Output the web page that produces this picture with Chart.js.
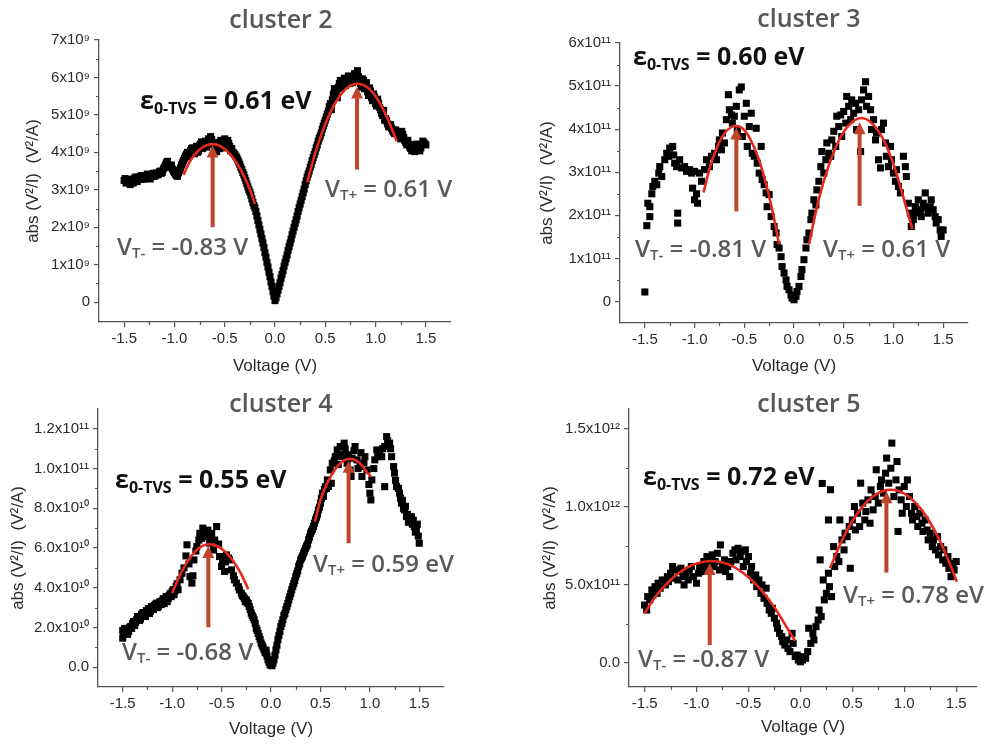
<!DOCTYPE html>
<html><head><meta charset="utf-8">
<script src="https://cdn.jsdelivr.net/npm/chart.js@4.4.1/dist/chart.umd.min.js"></script>
<style>
html,body{margin:0;padding:0;background:#fff;width:997px;height:744px;overflow:hidden}
.p{position:absolute}
canvas{display:block}
</style></head><body>
<div class="p" style="left:0;top:0"><canvas id="c2"></canvas></div>
<div class="p" style="left:500px;top:0"><canvas id="c3"></canvas></div>
<div class="p" style="left:0;top:380px"><canvas id="c4"></canvas></div>
<div class="p" style="left:500px;top:380px"><canvas id="c5"></canvas></div>
<script>
// ---------- shared axis ticks ----------
const voltageTicks = [-1.5,-1.0,-0.5,0,0.5,1.0,1.5];
const voltageTickLabels = ['-1.5','-1.0','-0.5','0.0','0.5','1.0','1.5'];
const voltageMinorTicks = [-1.25,-0.75,-0.25,0.25,0.75,1.25];
const xAxisTitle = 'Voltage (V)';
const yAxisTitle = 'abs (V\u00B2/I)  (V\u00B2/A)';

// ---------- cluster 2 (values in units of 1e9 V²/A) ----------
const c2YTicks = [0,1,2,3,4,5,6,7];
const c2YTickLabels = ['0','1x10\u2079','2x10\u2079','3x10\u2079','4x10\u2079','5x10\u2079','6x10\u2079','7x10\u2079'];
const c2YMinor = [0.5,1.5,2.5,3.5,4.5,5.5,6.5];
const c2Voltage = [-1.50,-1.48,-1.46,-1.44,-1.42,-1.40,-1.38,-1.36,-1.34,-1.32,-1.30,-1.28,-1.26,-1.24,-1.22,-1.20,-1.18,-1.16,-1.14,-1.12,-1.10,-1.08,-1.06,-1.04,-1.02,-1.00,-0.98,-0.96,-0.94,-0.92,-0.90,-0.88,-0.86,-0.84,-0.82,-0.80,-0.78,-0.76,-0.74,-0.72,-0.70,-0.68,-0.66,-0.64,-0.62,-0.60,-0.58,-0.56,-0.54,-0.52,-0.50,-0.48,-0.46,-0.44,-0.42,-0.40,-0.38,-0.36,-0.34,-0.32,-0.30,-0.28,-0.26,-0.24,-0.22,-0.20,-0.18,-0.16,-0.14,-0.12,-0.10,-0.08,-0.06,-0.04,-0.02,0.00,0.02,0.04,0.06,0.08,0.10,0.12,0.14,0.16,0.18,0.20,0.22,0.24,0.26,0.28,0.30,0.32,0.34,0.36,0.38,0.40,0.42,0.44,0.46,0.48,0.50,0.52,0.54,0.56,0.58,0.60,0.62,0.64,0.66,0.68,0.70,0.72,0.74,0.76,0.78,0.80,0.82,0.84,0.86,0.88,0.90,0.92,0.94,0.96,0.98,1.00,1.02,1.04,1.06,1.08,1.10,1.12,1.14,1.16,1.18,1.20,1.22,1.24,1.26,1.28,1.30,1.32,1.34,1.36,1.38,1.40,1.42,1.44,1.46,1.48,1.50];
const c2Abs = [3.25,3.18,3.28,3.14,3.22,3.30,3.26,3.34,3.28,3.36,3.31,3.38,3.34,3.29,3.40,3.36,3.45,3.41,3.50,3.47,3.60,3.72,3.66,3.62,3.55,3.46,3.38,3.45,3.58,3.72,3.84,3.95,3.88,4.05,4.12,3.96,4.16,4.04,4.22,4.10,4.26,4.14,4.36,4.42,4.20,4.08,4.02,4.26,4.32,4.18,4.36,4.12,4.24,4.04,4.00,3.94,3.86,3.74,3.60,3.46,3.32,3.16,3.00,2.86,2.66,2.52,2.30,2.06,1.82,1.58,1.32,1.06,0.80,0.54,0.28,0.04,0.22,0.42,0.64,0.84,1.06,1.26,1.48,1.68,1.90,2.10,2.30,2.52,2.72,2.92,3.14,3.34,3.50,3.68,3.86,4.02,4.20,4.38,4.52,4.70,4.86,5.02,5.22,5.14,5.55,5.68,5.46,5.84,5.70,5.92,5.78,5.96,5.84,6.02,5.90,6.06,6.18,5.96,5.74,5.92,5.80,5.62,5.72,5.46,5.56,5.30,5.42,5.20,5.04,5.12,4.90,4.76,4.70,4.64,4.54,4.60,4.48,4.44,4.56,4.40,4.26,4.32,4.14,4.04,4.20,4.08,4.16,4.04,4.20,4.26,4.20];
const c2VoltageB = [-1.49,-1.47,-1.45,-1.43,-1.41,-1.39,-1.37,-1.35,-1.33,-1.31,-1.29,-1.27,-1.25,-1.23,-1.21,-1.19,-1.17,-1.15,-1.13,-1.11,-1.09,-1.07,-1.05,-1.03,-1.01,-0.99,-0.97,-0.95,-0.93,-0.91,-0.89,-0.87,-0.85,-0.83,-0.81,-0.79,-0.77,-0.75,-0.73,-0.71,-0.69,-0.67,-0.65,-0.63,-0.61,-0.59,-0.57,-0.55,-0.53,-0.51,-0.49,-0.47,-0.45,-0.43,-0.41,-0.39,-0.37,-0.35,-0.33,-0.31,-0.29,-0.27,-0.25,-0.23,-0.21,-0.19,-0.17,-0.15,-0.13,-0.11,-0.09,-0.07,-0.05,-0.03,-0.01,0.01,0.03,0.05,0.07,0.09,0.11,0.13,0.15,0.17,0.19,0.21,0.23,0.25,0.27,0.29,0.31,0.33,0.35,0.37,0.39,0.41,0.43,0.45,0.47,0.49,0.51,0.53,0.55,0.57,0.59,0.61,0.63,0.65,0.67,0.69,0.71,0.73,0.75,0.77,0.79,0.81,0.83,0.85,0.87,0.89,0.91,0.93,0.95,0.97,0.99,1.01,1.03,1.05,1.07,1.09,1.11,1.13,1.15,1.17,1.19,1.21,1.23,1.25,1.27,1.29,1.31,1.33,1.35,1.37,1.39,1.41,1.43,1.45,1.47,1.49];
const c2AbsB = [3.30,3.22,3.20,3.26,3.18,3.34,3.22,3.30,3.38,3.28,3.36,3.42,3.30,3.36,3.44,3.38,3.40,3.48,3.44,3.56,3.66,3.76,3.60,3.66,3.50,3.42,3.36,3.52,3.66,3.78,3.90,4.00,3.96,4.10,4.02,4.10,4.00,4.18,4.28,4.16,4.30,4.22,4.30,4.34,4.26,4.16,4.20,4.10,4.26,4.30,4.22,4.32,4.16,4.10,3.98,3.90,3.80,3.68,3.54,3.40,3.24,3.08,2.94,2.76,2.58,2.42,2.18,1.94,1.70,1.46,1.20,0.94,0.68,0.42,0.16,0.12,0.32,0.52,0.74,0.96,1.16,1.38,1.58,1.80,2.00,2.20,2.42,2.62,2.82,3.02,3.24,3.42,3.60,3.78,3.94,4.12,4.30,4.44,4.62,4.78,4.94,5.10,5.30,5.40,5.70,5.58,5.74,5.92,5.80,5.98,5.88,6.04,5.92,5.86,6.10,5.98,6.02,5.84,5.96,5.70,5.86,5.52,5.64,5.38,5.48,5.24,5.32,5.14,4.98,4.86,4.84,4.68,4.74,4.58,4.50,4.52,4.40,4.36,4.48,4.32,4.20,4.22,4.10,4.12,4.02,4.22,4.10,4.12,4.30,4.22];
const c2FitLeftV = [-0.91,-0.84,-0.76,-0.68,-0.62,-0.54,-0.46,-0.38,-0.30,-0.24,-0.20];
const c2FitLeftAbs = [3.40,3.79,4.05,4.19,4.22,4.16,3.99,3.71,3.32,2.94,2.62];
const c2FitRightV = [0.32,0.40,0.48,0.56,0.64,0.72,0.82,0.92,1.02,1.12,1.21];
const c2FitRightAbs = [3.20,3.98,4.62,5.12,5.49,5.73,5.83,5.73,5.42,4.90,4.30];
const c2ArrowV = [-0.62,0.816];
const c2ArrowFrom = [2.0,3.54];
const c2ArrowTo = [4.18,5.76];

// ---------- cluster 3 (units of 1e11) ----------
const c3YTicks = [0,1,2,3,4,5,6];
const c3YTickLabels = ['0','1x10\u00B9\u00B9','2x10\u00B9\u00B9','3x10\u00B9\u00B9','4x10\u00B9\u00B9','5x10\u00B9\u00B9','6x10\u00B9\u00B9'];
const c3YMinor = [0.5,1.5,2.5,3.5,4.5,5.5];
const c3Voltage = [-1.50,-1.48,-1.47,-1.45,-1.45,-1.43,-1.42,-1.40,-1.38,-1.36,-1.35,-1.33,-1.30,-1.28,-1.26,-1.25,-1.22,-1.21,-1.20,-1.18,-1.17,-1.17,-1.15,-1.13,-1.10,-1.08,-1.05,-1.03,-1.02,-1.00,-1.00,-0.98,-0.97,-0.95,-0.93,-0.90,-0.88,-0.85,-0.83,-0.80,-0.78,-0.76,-0.75,-0.73,-0.72,-0.70,-0.68,-0.66,-0.65,-0.63,-0.62,-0.60,-0.58,-0.57,-0.55,-0.53,-0.52,-0.50,-0.48,-0.47,-0.45,-0.43,-0.42,-0.40,-0.38,-0.37,-0.35,-0.33,-0.32,-0.30,-0.28,-0.27,-0.25,-0.23,-0.20,-0.18,-0.17,-0.15,-0.13,-0.12,-0.10,-0.08,-0.07,-0.05,-0.03,-0.02,0.00,0.02,0.03,0.05,0.07,0.08,0.10,0.12,0.13,0.15,0.17,0.18,0.20,0.22,0.23,0.25,0.27,0.28,0.30,0.32,0.33,0.35,0.37,0.38,0.40,0.42,0.43,0.45,0.47,0.48,0.50,0.52,0.53,0.55,0.57,0.58,0.60,0.62,0.63,0.65,0.67,0.68,0.70,0.72,0.73,0.75,0.77,0.78,0.80,0.82,0.83,0.85,0.87,0.88,0.90,0.92,0.93,0.95,0.97,0.98,1.00,1.02,1.03,1.05,1.07,1.10,1.12,1.13,1.15,1.17,1.18,1.20,1.22,1.23,1.25,1.27,1.28,1.30,1.32,1.33,1.35,1.37,1.38,1.40,1.42,1.43,1.45,1.47,1.48,1.50];
const c3Abs = [0.22,1.76,2.28,1.97,2.20,2.50,2.67,2.79,2.71,2.98,3.13,2.90,3.29,3.44,3.37,3.56,3.60,3.40,3.21,3.13,2.05,1.82,3.29,3.10,3.13,3.02,3.06,2.98,2.63,3.02,2.36,2.50,2.28,2.98,2.79,3.06,3.29,3.13,3.37,3.44,3.29,3.60,3.75,3.52,3.91,3.68,4.22,4.80,4.45,4.33,4.14,4.30,4.53,3.99,4.91,4.98,3.83,4.30,4.60,3.60,4.06,4.37,3.44,3.37,4.02,3.21,2.98,3.60,2.83,2.71,2.52,2.20,2.48,1.97,1.74,1.59,1.32,1.24,1.04,0.81,0.66,0.50,0.35,0.27,0.15,0.08,0.04,0.12,0.23,0.35,0.58,0.74,0.97,1.24,1.43,1.59,1.90,2.05,2.36,2.24,2.59,2.79,3.13,3.48,2.98,3.29,3.68,3.44,3.37,3.75,3.95,3.60,4.30,4.06,4.33,3.83,4.41,4.14,4.76,4.53,4.22,4.68,4.37,4.60,3.99,4.45,3.48,4.68,4.91,5.10,4.53,4.76,4.45,3.99,4.22,3.75,3.91,3.29,3.10,3.99,4.14,3.68,3.37,3.13,3.60,3.29,2.98,2.79,3.06,2.67,2.52,3.37,3.13,2.90,2.28,2.05,1.74,1.90,2.20,2.05,2.36,2.13,1.97,2.28,2.52,2.17,2.05,2.20,2.36,2.13,1.97,1.82,1.90,1.66,1.51,1.66];
const c3FitLeftV = [-0.91,-0.84,-0.77,-0.70,-0.63,-0.587,-0.52,-0.44,-0.36,-0.28,-0.21,-0.15];
const c3FitLeftAbs = [2.53,3.16,3.60,3.90,4.05,4.08,4.02,3.77,3.34,2.72,2.03,1.33];
const c3FitRightV = [0.15,0.25,0.35,0.45,0.55,0.677,0.80,0.90,1.00,1.10,1.19];
const c3FitRightAbs = [1.33,2.38,3.16,3.73,4.09,4.26,4.10,3.75,3.19,2.42,1.68];
const c3ArrowV = [-0.58,0.66];
const c3ArrowFrom = [2.09,2.22];
const c3ArrowTo = [4.04,4.16];

// ---------- cluster 4 (units of 1e10) ----------
const c4YTicks = [0,2,4,6,8,10,12];
const c4YTickLabels = ['0.0','2.0x10\u00B9\u2070','4.0x10\u00B9\u2070','6.0x10\u00B9\u2070','8.0x10\u00B9\u2070','1.0x10\u00B9\u00B9','1.2x10\u00B9\u00B9'];
const c4YMinor = [1,3,5,7,9,11];
const c4Voltage = [-1.50,-1.50,-1.48,-1.46,-1.44,-1.42,-1.40,-1.38,-1.36,-1.34,-1.32,-1.30,-1.28,-1.26,-1.24,-1.22,-1.20,-1.18,-1.16,-1.14,-1.12,-1.10,-1.08,-1.06,-1.04,-1.02,-1.00,-0.98,-0.96,-0.94,-0.92,-0.90,-0.88,-0.86,-0.85,-0.83,-0.82,-0.80,-0.79,-0.78,-0.76,-0.75,-0.73,-0.72,-0.70,-0.69,-0.67,-0.65,-0.64,-0.62,-0.61,-0.60,-0.58,-0.57,-0.55,-0.53,-0.52,-0.50,-0.49,-0.47,-0.46,-0.45,-0.43,-0.42,-0.40,-0.38,-0.37,-0.35,-0.33,-0.32,-0.30,-0.28,-0.27,-0.25,-0.23,-0.22,-0.20,-0.18,-0.17,-0.15,-0.13,-0.12,-0.10,-0.08,-0.07,-0.05,-0.05,-0.03,-0.01,0.01,0.02,0.03,0.05,0.06,0.07,0.09,0.10,0.12,0.13,0.15,0.17,0.18,0.20,0.21,0.22,0.24,0.25,0.27,0.28,0.30,0.32,0.33,0.35,0.37,0.38,0.40,0.42,0.43,0.45,0.47,0.48,0.50,0.51,0.52,0.54,0.55,0.57,0.58,0.60,0.61,0.62,0.64,0.65,0.67,0.68,0.70,0.71,0.72,0.74,0.75,0.77,0.78,0.80,0.81,0.82,0.84,0.85,0.87,0.88,0.90,0.91,0.92,0.94,0.95,0.97,0.99,1.00,1.01,1.02,1.04,1.05,1.07,1.08,1.10,1.12,1.13,1.15,1.15,1.17,1.18,1.20,1.21,1.22,1.24,1.25,1.26,1.27,1.29,1.30,1.32,1.33,1.35,1.36,1.37,1.39,1.40,1.42,1.43,1.45,1.46,1.47,1.48,1.50];
const c4Abs = [1.85,1.46,1.95,1.70,1.80,2.05,2.20,2.10,2.38,2.50,2.42,2.72,2.60,2.85,2.95,2.80,2.97,3.10,3.22,3.05,3.30,3.35,3.20,3.56,3.45,3.70,3.80,3.65,4.06,3.90,4.40,4.73,5.00,5.60,6.16,5.20,4.56,4.23,4.60,5.40,5.85,6.07,6.40,6.74,6.49,7.00,6.70,6.58,6.90,6.24,6.60,6.74,5.90,6.40,7.08,6.20,5.57,5.07,5.40,4.82,5.30,5.65,5.50,5.40,4.90,4.60,4.40,4.23,4.05,3.89,3.72,3.55,3.47,3.39,3.20,3.05,2.72,2.50,2.38,1.96,1.70,1.54,1.21,1.00,0.87,0.70,0.85,0.37,0.12,0.07,0.20,0.37,0.87,1.10,1.38,1.80,2.05,2.38,2.60,2.89,3.20,3.39,3.72,3.90,4.06,4.35,4.56,4.85,5.07,5.40,5.60,5.74,5.99,6.20,6.41,6.74,6.95,7.08,7.42,7.70,7.92,8.26,8.50,8.76,8.95,9.09,9.43,9.10,9.93,9.26,10.27,10.40,10.60,10.94,10.20,11.11,10.70,10.60,11.28,11.00,10.27,10.70,9.93,9.60,10.52,10.90,11.11,10.44,10.00,10.10,10.80,9.60,10.30,10.60,9.93,9.20,8.76,8.42,9.43,10.00,10.44,10.94,10.60,10.77,10.60,11.00,11.11,9.09,11.61,11.40,11.28,11.00,10.60,10.10,9.77,9.40,9.09,9.00,8.76,8.26,8.40,7.92,8.10,7.58,7.30,7.42,7.58,7.20,7.08,6.80,6.91,7.20,6.24];
const c4VoltageB = [-1.49,-1.47,-1.45,-1.43,-1.41,-1.39,-1.37,-1.35,-1.33,-1.31,-1.29,-1.27,-1.25,-1.23,-1.21,-1.19,-1.17,-1.15,-1.13,-1.11,-1.09,-1.07,-1.05,-1.03,-1.01,-0.99,-0.97,-0.95,-0.29,-0.26,-0.24,-0.21,-0.19,-0.16,-0.14,-0.11,-0.09,-0.06,-0.04,-0.02,0.00,0.04,0.08,0.11,0.14,0.16,0.19,0.23,0.26,0.29,0.31,0.34,0.36,0.39,0.41,0.44,0.46,0.49,0.53,0.56,1.31,1.34,1.38,1.41,1.44,1.49];
const c4AbsB = [1.75,1.90,1.65,2.00,1.95,2.30,2.25,2.55,2.35,2.65,2.75,2.55,2.80,2.70,3.05,2.90,3.15,3.00,3.25,3.15,3.45,3.40,3.30,3.60,3.55,3.90,3.85,4.20,3.60,3.30,3.25,2.90,2.60,2.20,1.85,1.40,1.10,0.75,0.55,0.25,0.10,0.60,1.60,2.20,2.70,3.05,3.55,4.20,4.70,5.20,5.50,5.85,6.10,6.55,6.85,7.25,7.55,8.05,8.60,9.00,8.50,8.00,7.70,7.30,7.40,6.60];
const c4FitLeftV = [-1.00,-0.93,-0.86,-0.78,-0.70,-0.623,-0.54,-0.46,-0.38,-0.30,-0.23];
const c4FitLeftAbs = [3.72,4.53,5.20,5.76,6.09,6.19,6.09,5.80,5.33,4.67,3.93];
const c4FitRightV = [0.445,0.50,0.56,0.62,0.68,0.74,0.80,0.86,0.92,0.97,1.01];
const c4FitRightAbs = [7.33,8.42,9.17,9.74,10.16,10.41,10.49,10.41,10.16,9.83,9.60];
const c4ArrowV = [-0.634,0.785];
const c4ArrowFrom = [2.01,6.24];
const c4ArrowTo = [6.1,10.4];

// ---------- cluster 5 (units of 1e11) ----------
const c5YTicks = [0,5,10,15];
const c5YTickLabels = ['0.0','5.0x10\u00B9\u00B9','1.0x10\u00B9\u00B2','1.5x10\u00B9\u00B2'];
const c5YMinor = [2.5,7.5,12.5];
const c5Voltage = [-1.50,-1.48,-1.47,-1.45,-1.43,-1.42,-1.40,-1.38,-1.37,-1.35,-1.33,-1.30,-1.28,-1.27,-1.25,-1.23,-1.22,-1.20,-1.18,-1.17,-1.15,-1.13,-1.12,-1.10,-1.08,-1.07,-1.05,-1.03,-1.00,-0.98,-0.97,-0.95,-0.93,-0.92,-0.90,-0.88,-0.87,-0.85,-0.83,-0.82,-0.80,-0.78,-0.77,-0.75,-0.73,-0.72,-0.70,-0.68,-0.67,-0.65,-0.63,-0.62,-0.60,-0.58,-0.57,-0.55,-0.53,-0.52,-0.50,-0.48,-0.47,-0.45,-0.43,-0.42,-0.40,-0.38,-0.37,-0.35,-0.33,-0.32,-0.30,-0.28,-0.27,-0.25,-0.23,-0.22,-0.20,-0.18,-0.17,-0.15,-0.13,-0.12,-0.10,-0.08,-0.07,-0.05,-0.03,-0.02,0.00,0.02,0.03,0.05,0.07,0.08,0.10,0.12,0.13,0.15,0.17,0.18,0.19,0.20,0.21,0.22,0.23,0.25,0.27,0.27,0.28,0.29,0.30,0.32,0.33,0.35,0.37,0.38,0.40,0.42,0.43,0.45,0.47,0.48,0.50,0.52,0.53,0.55,0.57,0.58,0.60,0.62,0.63,0.65,0.67,0.68,0.70,0.72,0.73,0.75,0.77,0.78,0.80,0.82,0.83,0.85,0.87,0.88,0.90,0.92,0.93,0.94,0.95,0.97,0.98,1.00,1.02,1.03,1.05,1.07,1.08,1.10,1.12,1.13,1.15,1.17,1.18,1.20,1.22,1.23,1.25,1.27,1.28,1.30,1.32,1.33,1.35,1.37,1.38,1.40,1.42,1.43,1.45,1.47,1.48,1.50];
const c5Abs = [3.70,3.38,4.24,4.03,4.67,4.35,4.88,4.45,5.10,4.78,5.31,4.99,5.52,5.20,5.74,6.17,5.42,5.95,5.31,5.85,6.06,5.52,4.99,5.74,5.31,5.95,6.17,5.52,5.10,5.74,6.17,5.85,6.49,6.06,6.81,6.27,6.60,6.92,6.17,6.49,7.02,5.95,7.56,6.27,6.60,5.85,6.17,5.52,6.49,7.02,7.24,6.60,7.34,6.81,7.13,6.17,7.24,6.49,6.81,5.74,6.17,5.31,5.63,4.88,5.31,4.45,4.99,4.13,4.78,3.81,3.38,3.17,3.49,2.85,2.53,2.21,1.88,1.67,1.35,1.13,1.46,0.92,0.71,1.88,1.24,0.39,0.49,0.17,0.06,0.17,0.39,0.28,0.71,2.21,1.24,1.88,1.46,2.31,2.74,3.38,6.60,2.96,11.50,5.31,4.03,4.45,5.74,9.16,4.88,11.10,4.24,7.45,6.17,6.81,6.49,9.16,7.88,7.24,8.31,8.09,8.74,6.06,9.16,10.02,8.52,9.59,8.74,11.52,10.24,9.16,9.70,10.45,8.95,11.09,9.81,10.66,12.38,10.24,11.31,11.73,10.88,12.16,13.13,11.52,12.48,14.09,10.66,11.73,12.91,8.42,11.09,10.45,9.59,11.31,10.02,11.73,10.66,9.59,9.16,10.02,9.38,8.74,9.59,8.95,8.42,9.16,8.52,7.88,8.31,7.45,7.88,7.24,8.09,6.92,7.45,6.60,7.24,6.38,6.81,6.06,5.52,6.38,5.95,6.49];
const c5FitLeftV = [-1.50,-1.40,-1.30,-1.20,-1.10,-1.00,-0.86,-0.70,-0.55,-0.40,-0.25,-0.12,-0.05];
const c5FitLeftAbs = [3.17,4.20,4.98,5.61,6.07,6.37,6.53,6.33,5.76,4.84,3.55,2.15,1.39];
const c5FitRightV = [0.285,0.40,0.50,0.60,0.70,0.80,0.87,0.95,1.05,1.15,1.25,1.35,1.45,1.506];
const c5FitRightAbs = [6.06,7.85,9.09,10.03,10.68,11.03,11.10,11.01,10.62,9.95,8.98,7.71,6.15,5.20];
const c5ArrowV = [-0.873,0.828];
const c5ArrowFrom = [1.13,5.78];
const c5ArrowTo = [6.4,11.0];

// ---------- styling ----------
const TICK_FONT = "'Liberation Sans', Arial, Helvetica, sans-serif";
const ANN_FONT = "'Open Sans', 'Noto Sans', sans-serif";
const AXIS_COL = '#555';
const TICK_COL = '#2b2b2b';
const FIT_COL = '#e5281b';
const ARROW_COL = '#c0432e';
const GRAY_TXT = '#5a5a5a';

const panels = [
  {id:'c2', box:[0,0,500,380], area:[99,40,451,322], xMin:-1.75, xMax:1.75, yMin:-0.53, yMax:7,
   yTicks:c2YTicks, yLabels:c2YTickLabels, yMinor:c2YMinor, V:c2Voltage.concat(c2VoltageB), A:c2Abs.concat(c2AbsB),
   fits:[[c2FitLeftV,c2FitLeftAbs],[c2FitRightV,c2FitRightAbs]], arrows:[c2ArrowV,c2ArrowFrom,c2ArrowTo],
   yTitleX:33, xTitleY:366,
   title:['cluster 2',281,28], eps:['0.61',140,109], vtm:['-0.83 V',117,255], vtp:['0.61 V',325,197]},
  {id:'c3', box:[500,0,497,380], area:[620,43,968,323], xMin:-1.75, xMax:1.75, yMin:-0.5, yMax:6,
   yTicks:c3YTicks, yLabels:c3YTickLabels, yMinor:c3YMinor, V:c3Voltage, A:c3Abs,
   fits:[[c3FitLeftV,c3FitLeftAbs],[c3FitRightV,c3FitRightAbs]], arrows:[c3ArrowV,c3ArrowFrom,c3ArrowTo],
   yTitleX:547, xTitleY:366,
   title:['cluster 3',809,27], eps:['0.60',633,65], vtm:['-0.81 V',635,257], vtp:['0.61 V',823,257]},
  {id:'c4', box:[0,380,500,364], area:[98,409,444,687], xMin:-1.75, xMax:1.75, yMin:-1, yMax:13,
   yTicks:c4YTicks, yLabels:c4YTickLabels, yMinor:c4YMinor, V:c4Voltage.concat(c4VoltageB), A:c4Abs.concat(c4AbsB),
   fits:[[c4FitLeftV,c4FitLeftAbs],[c4FitRightV,c4FitRightAbs]], arrows:[c4ArrowV,c4ArrowFrom,c4ArrowTo],
   yTitleX:18, xTitleY:729,
   title:['cluster 4',281,412], eps:['0.55',115,488], vtm:['-0.68 V',122,660], vtp:['0.59 eV',313,572]},
  {id:'c5', box:[500,380,497,364], area:[629,409,977,687], xMin:-1.65, xMax:1.70, yMin:-1.56, yMax:16.28,
   yTicks:c5YTicks, yLabels:c5YTickLabels, yMinor:c5YMinor, V:c5Voltage, A:c5Abs,
   fits:[[c5FitLeftV,c5FitLeftAbs],[c5FitRightV,c5FitRightAbs]], arrows:[c5ArrowV,c5ArrowFrom,c5ArrowTo],
   yTitleX:550, xTitleY:727,
   title:['cluster 5',809,412], eps:['0.72',643,485], vtm:['-0.87 V',638,667], vtp:['0.78 eV',843,603]}
];

function drawRich(ctx, x, y, segs, color){
  ctx.save();
  ctx.fillStyle = color; ctx.textAlign = 'left'; ctx.textBaseline = 'alphabetic';
  let cx = x;
  for (const s of segs){
    ctx.font = (s.w || 'bold') + ' ' + s.size + 'px ' + ANN_FONT;
    ctx.fillText(s.t, cx, y + (s.dy || 0));
    cx += ctx.measureText(s.t).width;
  }
  ctx.restore();
}

function decor(p){
  const ox = p.box[0], oy = p.box[1];
  return {
    id: 'decor_' + p.id,
    afterDatasetsDraw(chart){
      const ctx = chart.ctx, xs = chart.scales.x, ys = chart.scales.y;
      const [av, af, at] = p.arrows;
      ctx.save();
      ctx.strokeStyle = ARROW_COL; ctx.fillStyle = ARROW_COL; ctx.lineWidth = 4;
      for (let i = 0; i < av.length; i++){
        const px = xs.getPixelForValue(av[i]);
        const p0 = ys.getPixelForValue(af[i]);
        const p1 = ys.getPixelForValue(at[i]);
        ctx.beginPath(); ctx.moveTo(px, p0); ctx.lineTo(px, p1 + 10); ctx.stroke();
        ctx.beginPath(); ctx.moveTo(px, p1); ctx.lineTo(px - 6, p1 + 12); ctx.lineTo(px + 6, p1 + 12); ctx.closePath(); ctx.fill();
      }
      ctx.restore();
    },
    afterDraw(chart){
      const ctx = chart.ctx, xs = chart.scales.x, ys = chart.scales.y, ca = chart.chartArea;
      ctx.save();
      ctx.strokeStyle = AXIS_COL; ctx.lineWidth = 1.2;
      ctx.beginPath();
      for (const v of voltageMinorTicks){
        const px = Math.round(xs.getPixelForValue(v)) + 0.5;
        ctx.moveTo(px, ca.bottom); ctx.lineTo(px, ca.bottom + 3);
      }
      for (const v of p.yMinor){
        const py = Math.round(ys.getPixelForValue(v)) + 0.5;
        ctx.moveTo(ca.left - 3, py); ctx.lineTo(ca.left, py);
      }
      ctx.stroke();
      ctx.fillStyle = '#575757'; ctx.textAlign = 'center'; ctx.textBaseline = 'alphabetic';
      ctx.font = '600 25px ' + ANN_FONT;
      ctx.fillText(p.title[0], p.title[1] - ox, p.title[2] - oy);
      ctx.restore();
      drawRich(ctx, p.eps[1] - ox, p.eps[2] - oy,
        [{t:'\u03B5', size:25},{t:'0-TVS', size:16, dy:5},{t:' = ' + p.eps[0] + ' eV', size:25}], '#111');
      drawRich(ctx, p.vtm[1] - ox, p.vtm[2] - oy,
        [{t:'V', size:24, w:'600'},{t:'T-', size:15, dy:3, w:'600'},{t:' = ' + p.vtm[0], size:24, w:'600'}], GRAY_TXT);
      drawRich(ctx, p.vtp[1] - ox, p.vtp[2] - oy,
        [{t:'V', size:24, w:'600'},{t:'T+', size:15, dy:3, w:'600'},{t:' = ' + p.vtp[0], size:24, w:'600'}], GRAY_TXT);
    }
  };
}

function makeChart(p){
  const canvas = document.getElementById(p.id);
  const [bx, by, bw, bh] = p.box;
  const [l, t, r, b] = p.area;
  canvas.width = bw; canvas.height = bh;
  canvas.style.width = bw + 'px'; canvas.style.height = bh + 'px';
  const W = l - bx, H = (by + bh) - b, padTop = t - by, padRight = (bx + bw) - r;
  const tickFont = {family: TICK_FONT, size: 15};
  const titleFont = {family: TICK_FONT, size: 17};
  const lh = 17 * 1.2;
  const datasets = [{
    data: p.V.map((v, i) => ({x: v, y: p.A[i]})),
    backgroundColor: '#000', borderColor: '#000', borderWidth: 0,
    pointStyle: 'rect', pointRadius: 5, order: 3
  }];
  for (const f of p.fits){
    datasets.push({type: 'line', data: f[0].map((v, i) => ({x: v, y: f[1][i]})),
      borderColor: FIT_COL, borderWidth: 2.6, pointRadius: 0, tension: 0.4,
      cubicInterpolationMode: 'monotone', fill: false, showLine: true, order: 1});
  }
  new Chart(canvas, {
    type: 'scatter',
    data: {datasets},
    options: {
      responsive: false, animation: false, devicePixelRatio: 1, events: [],
      layout: {padding: {left: 0, top: padTop, right: padRight, bottom: 0}},
      plugins: {legend: {display: false}, tooltip: {enabled: false}, title: {display: false}},
      scales: {
        x: {type: 'linear', position: 'bottom', min: p.xMin, max: p.xMax,
          afterBuildTicks: s => { s.ticks = voltageTicks.map(v => ({value: v})); },
          afterFit: s => { s.height = H; },
          ticks: {autoSkip: false, maxRotation: 0, padding: 3, color: TICK_COL, font: tickFont,
            callback: v => voltageTickLabels[voltageTicks.indexOf(v)]},
          grid: {drawOnChartArea: false, drawTicks: true, tickLength: 5, color: AXIS_COL, lineWidth: 1.2},
          border: {display: true, color: AXIS_COL, width: 1.3},
          title: {display: true, text: xAxisTitle, color: TICK_COL, font: titleFont,
            padding: {top: 0, bottom: (by + bh) - p.xTitleY - lh / 2}}},
        y: {type: 'linear', position: 'left', min: p.yMin, max: p.yMax,
          afterBuildTicks: s => { s.ticks = p.yTicks.map(v => ({value: v})); },
          afterFit: s => { s.width = W; },
          ticks: {autoSkip: false, padding: 4, color: TICK_COL, font: tickFont,
            callback: v => p.yLabels[p.yTicks.indexOf(v)]},
          grid: {drawOnChartArea: false, drawTicks: true, tickLength: 5, color: AXIS_COL, lineWidth: 1.2},
          border: {display: true, color: AXIS_COL, width: 1.3},
          title: {display: true, text: yAxisTitle, color: TICK_COL, font: titleFont,
            padding: {top: p.yTitleX - bx - lh / 2, bottom: 0}}}
      }
    },
    plugins: [decor(p)]
  });
}

panels.forEach(makeChart);
</script>
</body></html>
